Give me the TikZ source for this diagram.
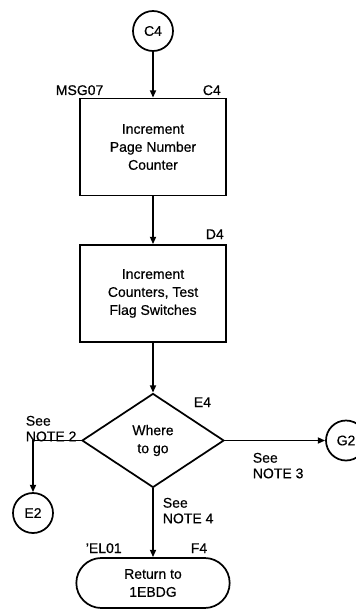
\documentclass[tikz,border=0pt]{standalone}
\usepackage{fontspec}
\setmainfont{Liberation Sans}[UprightFeatures={FakeBold=0.5}]
\usetikzlibrary{shapes.geometric,arrows.meta}

\begin{document}
\begin{tikzpicture}[x=0.75pt,y=-0.75pt,line width=1.3pt,
	every node/.style={font=\fontsize{10.5}{13.5}\selectfont},
	proc/.style={draw,minimum width=109.5pt,minimum height=72.75pt,align=center,inner sep=0pt},
	conn/.style={draw,circle,minimum size=30pt,inner sep=0pt},
	decide/.style={draw,diamond,minimum width=106.5pt,minimum height=70.5pt,inner sep=0pt,align=center},
	term/.style={draw,rounded corners=18.75pt,minimum width=115pt,minimum height=37.5pt,align=center},
	tag/.style={inner sep=0pt,anchor=base west},
	note/.style={inner sep=0pt,anchor=north west,align=left,font=\fontsize{10.5}{11.7}\selectfont},
	flow/.style={-{Triangle[length=5.5pt,width=4.5pt]}}]
	\useasboundingbox (0,0) rectangle (356,613);
	\node[conn] (C4) at (153,31) {C4};
	\node[proc] (B1) at (153,147) {Increment\\Page Number\\Counter};
	\node[proc] (B2) at (153,293.5) {Increment\\Counters, Test\\Flag Switches};
	\node[decide] (W) at (153,440.5) {Where\\to go};
	\node[conn] (E2) at (33,513) {E2};
	\node[conn] (G2) at (346,440.5) {G2};
	\node[term] (R) at (153,583) {Return to\\1EBDG};
	\node[tag] (l1) at (55,95) {MSG07};
	\node[tag] (l2) at (202,95) {C4};
	\node[tag] (l3) at (205,239) {D4};
	\node[tag] (l4) at (193,407) {E4};
	\node[tag] (l5) at (85,553) {'EL01};
	\node[tag] (l6) at (190,553) {F4};
	\node[note] (n2) at (25,415) {See\\NOTE 2};
	\node[note] (n3) at (252,452) {See\\NOTE 3};
	\node[note] (n4) at (162,497) {See\\NOTE 4};
	\draw [flow] (C4) -- (B1);
	\draw [flow] (B1) -- (B2);
	\draw [flow] (B2) -- (W);
	\draw [flow] (W.west) -| (E2.north);
	\draw [flow] (W.east) -- (G2.west);
	\draw [flow] (W.south) -- (R.north);
\end{tikzpicture}
\end{document}
